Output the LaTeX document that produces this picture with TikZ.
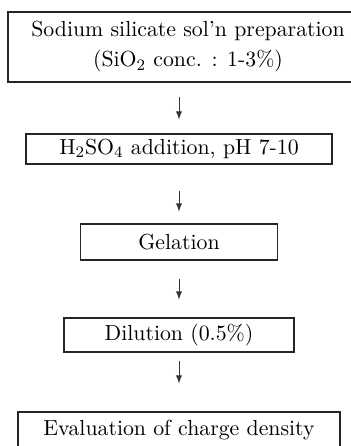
\documentclass[tikz,border=0pt]{standalone}
\usepackage{tikz}
\usetikzlibrary{arrows, positioning, calc}

\begin{document}
\begin{tikzpicture}[x=1pt, y=1pt,%
  step box/.style={draw=black!85, line width=0.55pt, align=center, inner sep=0pt, font=\fontsize{10.9}{15}\selectfont},%
  flow/.style={thin, ->, >=latex, draw=black!80}%
]
  \useasboundingbox (0,0) rectangle (175.5,-223);
  \clip (0,0) rectangle (175.5,-223);
  % Steps
  \node[step box, minimum width=180pt, minimum height=35pt] (sol) at (94,-23.5) {Sodium silicate sol'n preparation\\(SiO$_2$ conc. : 1-3\%)};
  \node[step box, minimum width=153pt, minimum height=15pt] (acid) at (89.5,-74.5) {H$_2$SO$_4$ addition, pH 7-10};
  \node[step box, minimum width=98.5pt, minimum height=18pt] (gel) at (89.5,-121) {Gelation};
  \node[step box, minimum width=115pt, minimum height=17pt] (dil) at (89.5,-167.5) {Dilution (0.5\%)};
  \node[step box, minimum width=161pt, minimum height=18pt] (eval) at (89.5,-215) {Evaluation of charge density};
  % Arrows
  \draw[flow, shorten <=7pt, shorten >=7pt] (sol.south -| acid.north) -- (acid.north);
  \draw[flow, shorten <=13pt, shorten >=6pt] (acid) -- (gel);
  \draw[flow, shorten <=9pt, shorten >=9pt] (gel) -- (dil);
  \draw[flow, shorten <=4pt, shorten >=14pt] (dil) -- (eval);
\end{tikzpicture}
\end{document}
